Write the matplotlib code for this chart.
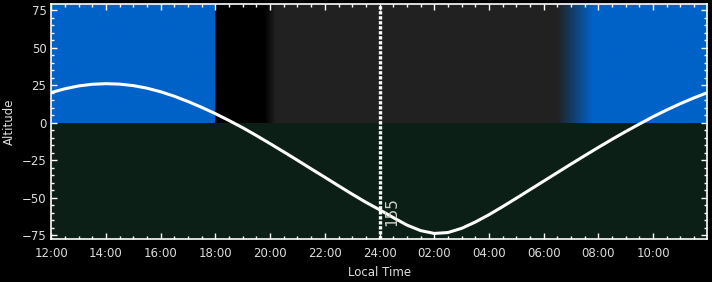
import matplotlib
matplotlib.use("Agg")
import matplotlib.pyplot as plt
from matplotlib.ticker import MultipleLocator, FuncFormatter
from matplotlib.colors import to_rgb
import numpy as np

# hours since 12:00 local time, every half hour
hours = np.arange(0, 24.5, 0.5)
altitude = [20.2, 22.7, 24.6, 25.7, 26.1, 25.8, 24.8, 23.1, 20.7, 17.7,
            14.2, 10.3, 6.1, 1.5, -3.3, -8.5, -13.9, -19.4, -25.0, -30.7,
            -36.3, -42.0, -47.6, -53.0, -58.0, -63.2, -68.2, -71.9, -73.8, -73.2,
            -70.4, -66.2, -61.3, -55.9, -50.3, -44.6, -38.9, -33.2, -27.5, -21.9,
            -16.4, -11.0, -5.8, -0.8, 4.1, 8.6, 12.8, 16.7, 20.2]

# sky state above the horizon (hours since 12:00)
sky_hours = [0, 6.0, 6.0, 7.8, 8.2, 18.5, 19.8, 24]
sky_colors = ["#0062c8", "#0062c8", "#000000", "#000000", "#212121",
              "#212121", "#0062c8", "#0062c8"]

marker_hour = 12.0
marker_label = "155"

ground = "#0b1f16"

fig = plt.figure(figsize=(7.12, 2.82), dpi=100, facecolor="black")
ax = fig.add_axes([0.072, 0.1525, 0.921, 0.832])
ax.set_facecolor(ground)

# sky band built from the sky state table
xs = np.linspace(0, 24, 1200)
rgb = np.array([to_rgb(c) for c in sky_colors])
band = np.stack([np.interp(xs, sky_hours, rgb[:, k]) for k in range(3)], axis=-1)
ax.imshow(band[np.newaxis, :, :], extent=(0, 24, 0, 79), aspect="auto",
          interpolation="bilinear", zorder=0)

ax.plot(hours, altitude, color="white", lw=2.2, zorder=3,
        solid_capstyle="round")

ax.axvline(marker_hour, color="white", lw=2.4, linestyle=(0, (1, 0.5)), zorder=4)
ax.text(marker_hour + 0.45, -69, marker_label, rotation=90, color="#d0d0c8",
        fontsize=11, ha="center", va="bottom", zorder=5)

ax.set_xlim(0, 23.97)
ax.set_ylim(-77.5, 79)

ax.xaxis.set_major_locator(MultipleLocator(2))
ax.xaxis.set_minor_locator(MultipleLocator(0.5))
ax.yaxis.set_major_locator(MultipleLocator(25))
ax.yaxis.set_minor_locator(MultipleLocator(5))


def fmt_time(v, pos):
    h = int(round(v + 12))
    if h > 24:
        h -= 24
    return "%02d:00" % h


ax.xaxis.set_major_formatter(FuncFormatter(fmt_time))

ax.tick_params(which="both", direction="in", colors="white", labelcolor="#dddddd",
               top=True, right=True, labelsize=8.5)
ax.tick_params(axis="x", pad=6)
ax.tick_params(which="major", length=4, width=1)
ax.tick_params(which="minor", length=2.5, width=1)
for s in ax.spines.values():
    s.set_color("white")
    s.set_linewidth(1.2)

ax.set_xlabel("Local Time", color="#dddddd", fontsize=8.5, labelpad=4)
ax.set_ylabel("Altitude", color="#dddddd", fontsize=8.5, labelpad=4)

fig.savefig("out.png", dpi=100, facecolor="black")
